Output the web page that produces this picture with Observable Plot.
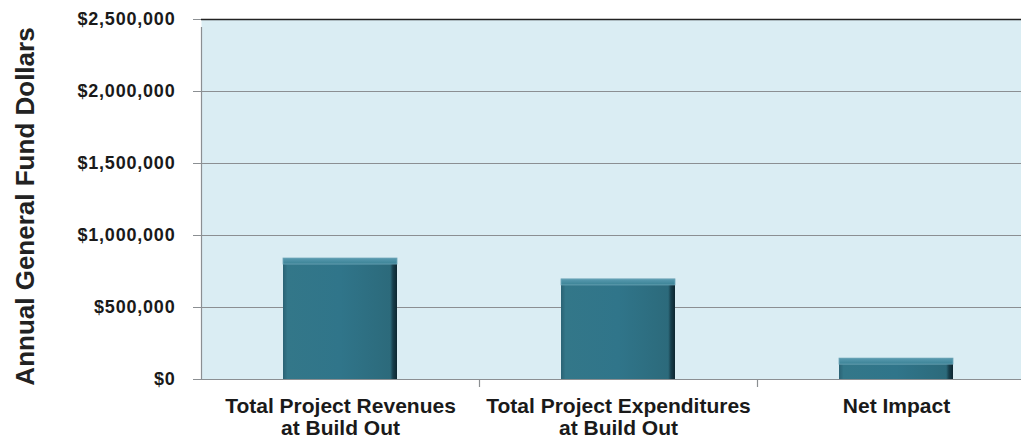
<!DOCTYPE html>
<html>
<head>
<meta charset="utf-8">
<script src="https://cdn.jsdelivr.net/npm/d3@7"></script>
<script src="https://cdn.jsdelivr.net/npm/@observablehq/plot@0.6"></script>
<style>
  html, body { margin: 0; padding: 0; background: #ffffff; overflow: hidden; }
  #chart svg { display: block; }
</style>
</head>
<body>
<div id="chart"></div>
<script>
// ---- data ----
const categories = ["Total Project Revenues\nat Build Out", "Total Project Expenditures\nat Build Out", "Net Impact"];
const values = [840000, 695000, 145000];
const yTicks = [0, 500000, 1000000, 1500000, 2000000, 2500000];
const yTitle = "Annual General Fund Dollars";
const separatorTicks = [0, 1, 2, 3];

const rows = categories.map((c, i) => ({label: c, i, value: values[i]}));

const fmt = d => "$" + d3.format(",")(d);
const font = "Liberation Sans, Arial, Helvetica, sans-serif";

const chart = Plot.plot({
  width: 1021,
  height: 441,
  marginLeft: 201,
  marginRight: -14,
  marginTop: 19,
  marginBottom: 62,
  style: {fontFamily: font, background: "#ffffff", overflow: "hidden"},
  x: {type: "linear", domain: [0, 3], axis: null},
  y: {type: "linear", domain: [0, 2500000], axis: null},
  marks: [
    Plot.frame({fill: "#daedf3", stroke: null}),
    // gridlines
    Plot.ruleY(yTicks.filter(d => d > 0 && d < 2500000), {stroke: "#8b8f92", strokeWidth: 1.2}),
    Plot.ruleY([2500000], {stroke: "#222222", strokeWidth: 1.4}),
    Plot.ruleY([0], {stroke: "#8b8f92", strokeWidth: 1.2}),
    // y axis
    Plot.axisY({
      ticks: yTicks, tickFormat: fmt, tickSize: 8, tickPadding: 18,
      stroke: "#8b8f92", fill: "#1a1a1a", fontSize: 18, fontWeight: "bold",
      label: null
    }),
    // category separators (axis line + boundaries) extending below baseline
    Plot.ruleX([0], {stroke: "#8b8f92", strokeWidth: 1.2, y1: 0, y2: 2500000, insetBottom: -8}),
    Plot.ruleX(separatorTicks.slice(1), {x: d => d, y1: 0, y2: 0, insetBottom: -8, stroke: "#8b8f92", strokeWidth: 1.2}),
    // bars
    Plot.rectY(rows, {x1: d => d.i, x2: d => d.i + 1, y1: 0, y2: "value", insetLeft: 82, insetRight: 82, fill: "url(#barGradH)", ariaLabel: "bars"}),
    // top bevel
    Plot.rectY(rows, {x1: d => d.i, x2: d => d.i + 1, y1: "value", y2: "value", insetLeft: 82, insetRight: 82, insetBottom: -6, fill: "url(#barGradV)", stroke: "#6fa7b9", strokeWidth: 0.8}),
    // x labels
    Plot.text(rows, {x: d => d.i + 0.5, text: "label", frameAnchor: "bottom", dy: 18, lineAnchor: "top", lineHeight: 1.05, fontSize: 21, fontWeight: "bold", fill: "#1a1a1a"}),
    // y title
    Plot.text([yTitle], {frameAnchor: "left", dx: -176, dy: 7, rotate: -90, fontSize: 26, fontWeight: "bold", fill: "#222222", textAnchor: "middle", lineAnchor: "middle"})
  ]
});

// gradients and shadow for the bevelled bar look
const svg = d3.select(chart);
const defs = svg.insert("defs", ":first-child");
const gH = defs.append("linearGradient").attr("id", "barGradH").attr("x1", "0").attr("x2", "1").attr("y1", "0").attr("y2", "0");
[["0%", "#2a6274"], ["4%", "#337789"], ["50%", "#30758a"], ["94%", "#2c6a7b"], ["96.5%", "#173e4b"], ["100%", "#0d2630"]]
  .forEach(([o, c]) => gH.append("stop").attr("offset", o).attr("stop-color", c));
const gV = defs.append("linearGradient").attr("id", "barGradV").attr("x1", "0").attr("x2", "0").attr("y1", "0").attr("y2", "1");
[["0%", "#5a9bb0"], ["100%", "#3a8295"]]
  .forEach(([o, c]) => gV.append("stop").attr("offset", o).attr("stop-color", c));
const flt = defs.append("filter").attr("id", "barShadow").attr("x", "-10%").attr("y", "-10%").attr("width", "130%").attr("height", "130%");
flt.append("feDropShadow").attr("dx", 2).attr("dy", 1).attr("stdDeviation", 1.6).attr("flood-color", "#000").attr("flood-opacity", 0.45);
svg.select("g[aria-label='bars']").attr("filter", "url(#barShadow)");
svg.select("g[aria-label='y-axis tick label']").attr("letter-spacing", "0.8px");

document.getElementById("chart").appendChild(chart);
</script>
</body>
</html>
